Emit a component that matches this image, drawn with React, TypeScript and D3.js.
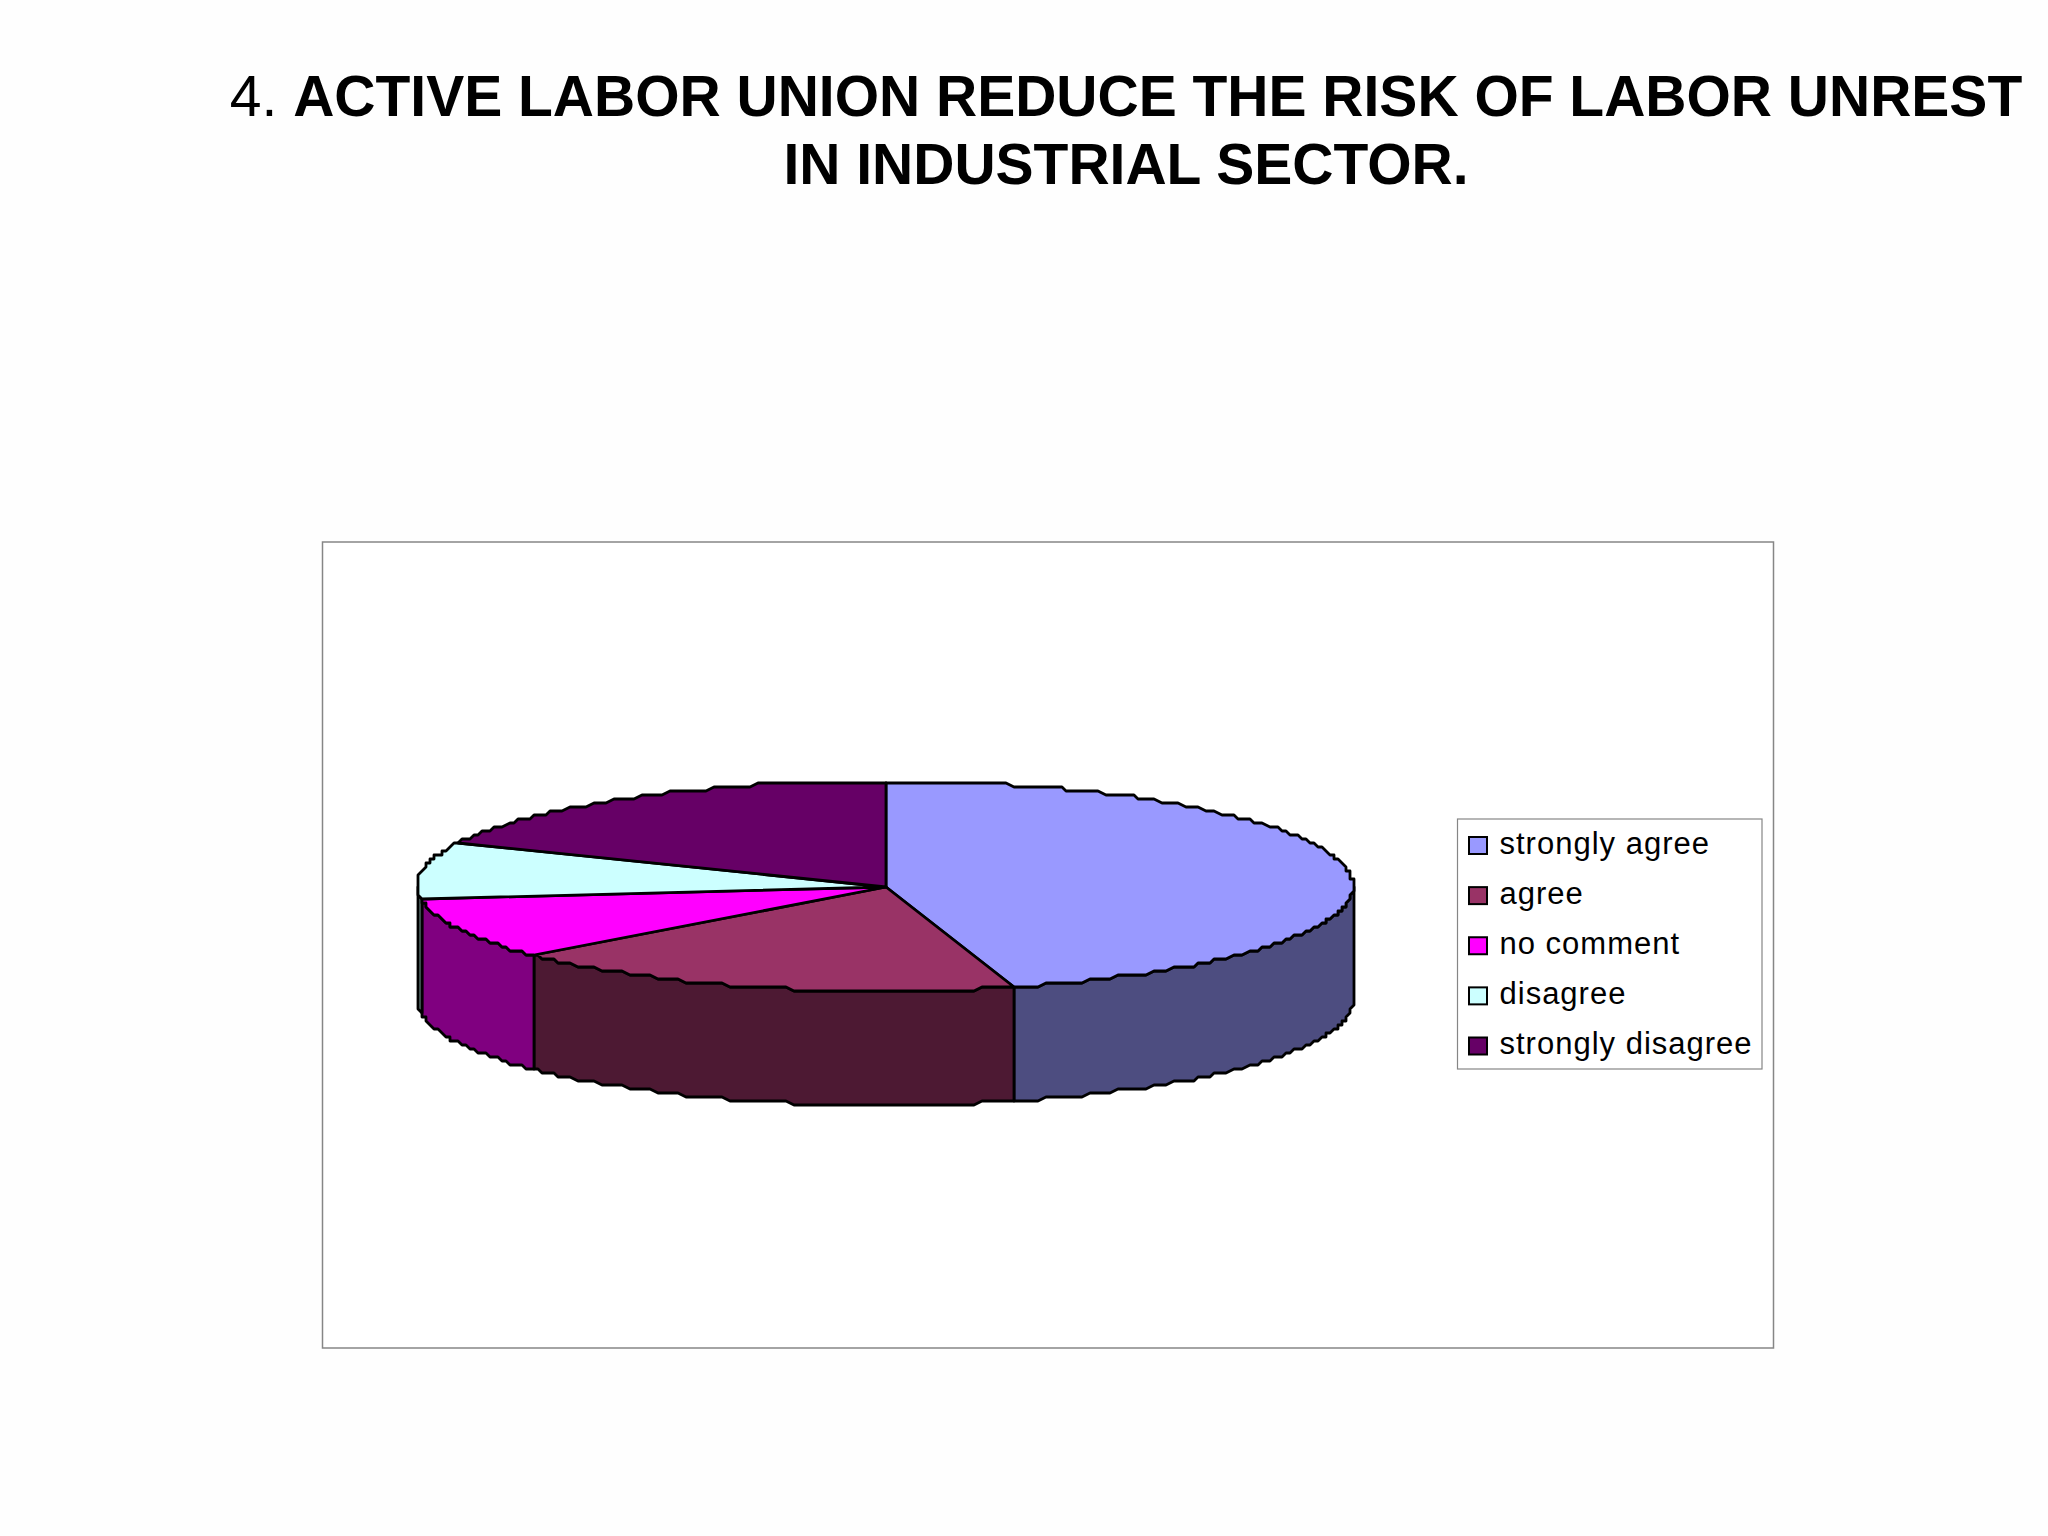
import { useEffect, useRef } from "react";
import * as d3 from "d3";

const WIDTH = 2048;
const HEIGHT = 1536;

// chart values (percent)
const categories = ["strongly agree", "agree", "no comment", "disagree", "strongly disagree"];
const values = [45.6, 18.0, 9.5, 8.7, 18.2];
const topColors = ["#9999FF", "#993366", "#FF00FF", "#CCFFFF", "#660066"];
const sideColors = ["#4D4D80", "#4D1933", "#800080", "#668080", "#330033"];
const titleLines = [
  [
    { text: "4. ", weight: 400 },
    { text: "ACTIVE LABOR UNION REDUCE THE RISK OF LABOR UNREST", weight: 700 },
  ],
  [{ text: "IN INDUSTRIAL SECTOR.", weight: 700 }],
];

const FONT = "'Liberation Sans', Arial, sans-serif";
const PIE = { cx: 887, cy: 887, rx: 468, ry: 105, depth: 114 };
const STEP = Math.PI / 180;
const SNAP = 4; // the outline of the original is a coarse, stepped polyline

const App = () => {
  const svgRef = useRef<SVGSVGElement | null>(null);

  useEffect(() => {
    const svg = d3.select(svgRef.current);
    svg.selectAll("*").remove();

    svg.append("rect").attr("width", WIDTH).attr("height", HEIGHT).attr("fill", "#FEFEFE");

    // title
    const title = svg
      .append("text")
      .attr("font-family", FONT)
      .attr("font-size", 57)
      .attr("text-anchor", "middle")
      .attr("fill", "#000");
    titleLines.forEach((line, i) => {
      const t = title
        .append("tspan")
        .attr("x", 1126)
        .attr("y", 116 + i * 68);
      line.forEach((part) => {
        t.append("tspan").attr("font-weight", part.weight).text(part.text);
      });
    });

    // plot frame
    svg
      .append("rect")
      .attr("x", 322.5)
      .attr("y", 542)
      .attr("width", 1451)
      .attr("height", 806)
      .attr("fill", "#fff")
      .attr("stroke", "#868686")
      .attr("stroke-width", 1.5);

    const xScale = d3
      .scaleLinear()
      .domain([-1, 1])
      .range([PIE.cx - PIE.rx, PIE.cx + PIE.rx]);
    const yScale = d3
      .scaleLinear()
      .domain([-1, 1])
      .range([PIE.cy - PIE.ry, PIE.cy + PIE.ry]);

    const slices = d3
      .pie<number>()
      .sort(null)
      .value((d) => d)(values);

    const snap = (v: number) => Math.round(v / SNAP) * SNAP;
    const rim = (a0: number, a1: number) => {
      const angles = d3.range(a0, a1, STEP).concat(a1);
      return angles.map(
        (a) => [snap(xScale(Math.sin(a))) - 2, snap(yScale(-Math.cos(a))) - 1] as [number, number]
      );
    };
    const line = d3.line();

    // side walls, only where the rim faces the viewer
    slices.forEach((s, i) => {
      const a0 = Math.max(s.startAngle, Math.PI / 2);
      const a1 = Math.min(s.endAngle, (3 * Math.PI) / 2);
      if (a1 <= a0) return;
      const upper = rim(a0, a1);
      const lower = upper.map(([x, y]) => [x, y + PIE.depth] as [number, number]).reverse();
      svg
        .append("path")
        .attr("d", line([...upper, ...lower]) + "Z")
        .attr("fill", sideColors[i])
        .attr("stroke", "#000")
        .attr("stroke-width", 2.8)
        .attr("stroke-linejoin", "round");
    });

    // top faces
    slices.forEach((s, i) => {
      const pts: [number, number][] = [[xScale(0) - 1, yScale(0)], ...rim(s.startAngle, s.endAngle)];
      svg
        .append("path")
        .attr("d", line(pts) + "Z")
        .attr("fill", topColors[i])
        .attr("stroke", "#000")
        .attr("stroke-width", 2.8)
        .attr("stroke-linejoin", "round");
    });

    // legend
    const legend = svg.append("g");
    legend
      .append("rect")
      .attr("x", 1457.5)
      .attr("y", 819)
      .attr("width", 304.5)
      .attr("height", 250)
      .attr("fill", "#fff")
      .attr("stroke", "#868686")
      .attr("stroke-width", 1.2);

    const rowScale = d3
      .scalePoint<string>()
      .domain(categories)
      .range([845.5, 1046]);

    categories.forEach((c, i) => {
      const y = rowScale(c) as number;
      legend
        .append("rect")
        .attr("x", 1469)
        .attr("y", y - 8.5)
        .attr("width", 18)
        .attr("height", 17)
        .attr("fill", topColors[i])
        .attr("stroke", "#000")
        .attr("stroke-width", 2);
      legend
        .append("text")
        .attr("x", 1499.5)
        .attr("y", y + 8)
        .attr("font-family", FONT)
        .attr("font-size", 31)
        .attr("letter-spacing", 1)
        .attr("fill", "#000")
        .text(c);
    });
  }, []);

  return (
    <svg
      ref={svgRef}
      width={WIDTH}
      height={HEIGHT}
      style={{ position: "absolute", left: 0, top: 0, display: "block" }}
    ></svg>
  );
};

export default App;
